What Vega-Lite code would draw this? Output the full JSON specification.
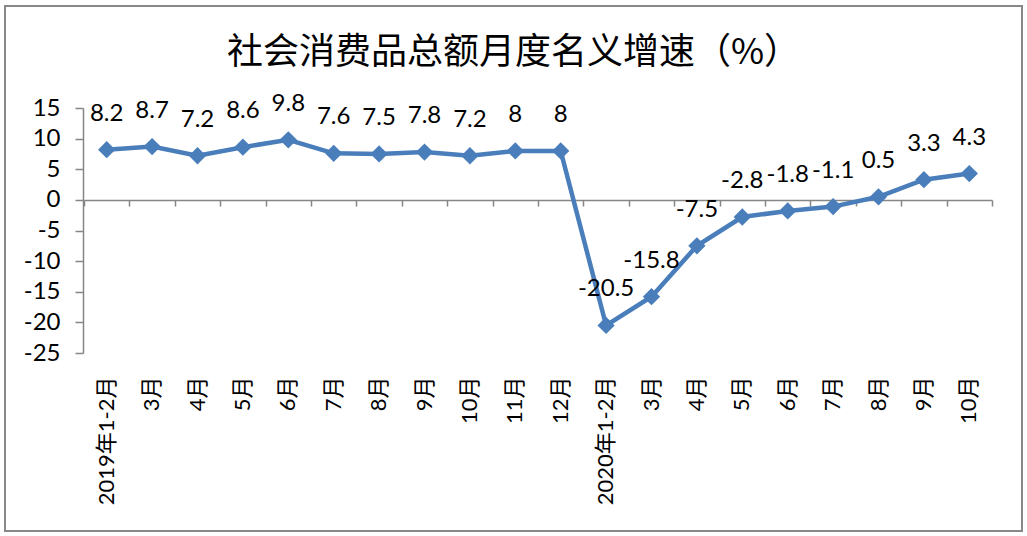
{
  "$schema": "https://vega.github.io/schema/vega-lite/v6.json",
  "autosize": "none",
  "padding": {"left": 5, "top": 6, "right": 5, "bottom": 5},
  "width": 1017,
  "height": 525,
  "config": {
    "view": {"stroke": "#888888", "strokeWidth": 2},
    "font": "Lato, Noto Sans CJK SC"
  },
  "title": {
    "text": "社会消费品总额月度名义增速（%）",
    "font": "Noto Sans CJK SC",
    "fontSize": 36,
    "fontWeight": "normal",
    "color": "#000000",
    "anchor": "middle",
    "frame": "group",
    "offset": -66
  },
  "data": {
    "values": [
      {"month": "2019-02", "value": 8.2},
      {"month": "2019-03", "value": 8.7},
      {"month": "2019-04", "value": 7.2},
      {"month": "2019-05", "value": 8.6},
      {"month": "2019-06", "value": 9.8},
      {"month": "2019-07", "value": 7.6},
      {"month": "2019-08", "value": 7.5},
      {"month": "2019-09", "value": 7.8},
      {"month": "2019-10", "value": 7.2},
      {"month": "2019-11", "value": 8},
      {"month": "2019-12", "value": 8},
      {"month": "2020-02", "value": -20.5},
      {"month": "2020-03", "value": -15.8},
      {"month": "2020-04", "value": -7.5},
      {"month": "2020-05", "value": -2.8},
      {"month": "2020-06", "value": -1.8},
      {"month": "2020-07", "value": -1.1},
      {"month": "2020-08", "value": 0.5},
      {"month": "2020-09", "value": 3.3},
      {"month": "2020-10", "value": 4.3}
    ]
  },
  "encoding": {
    "x": {
      "field": "month",
      "type": "ordinal",
      "sort": null,
      "scale": {"type": "band", "paddingInner": 0, "paddingOuter": 0, "range": [79, 987]}
    },
    "y": {
      "field": "value",
      "type": "quantitative",
      "scale": {"domain": [-25, 15], "range": [347, 102], "nice": false, "zero": false},
      "axis": {
        "orient": "left",
        "offset": -78,
        "title": null,
        "grid": false,
        "values": [-25, -20, -15, -10, -5, 0, 5, 10, 15],
        "labelExpr": "toString(datum.value)",
        "domainColor": "#868686",
        "domainWidth": 1.5,
        "tickColor": "#868686",
        "tickWidth": 1.5,
        "tickSize": 8,
        "labelPadding": 15,
        "labelFontSize": 24,
        "labelColor": "#000000",
        "labelFont": "Lato"
      }
    }
  },
  "layer": [
    {
      "mark": {"type": "line", "color": "#4A7EBB", "strokeWidth": 4.5},
      "encoding": {
        "x": {
          "field": "month",
          "type": "ordinal",
          "sort": null,
          "axis": {
            "orient": "bottom",
            "offset": -161,
            "title": null,
            "domain": false,
            "ticks": false,
            "grid": false,
            "labelAngle": -90,
            "labelAlign": "right",
            "labelBaseline": "middle",
            "labelPadding": 6,
            "labelFontSize": 22,
            "labelColor": "#000000",
            "labelFont": "Lato, Noto Sans CJK SC",
            "labelExpr": "datum.value == '2019-02' ? '2019年1-2月' : datum.value == '2020-02' ? '2020年1-2月' : toNumber(substring(datum.value, 5)) + '月'"
          }
        }
      }
    },
    {
      "mark": {"type": "point", "shape": "diamond", "filled": true, "opacity": 1, "size": 300, "color": "#4A7EBB"},
      "encoding": {
        "x": {
          "field": "month",
          "type": "ordinal",
          "sort": null,
          "axis": {
            "orient": "bottom",
            "offset": -331,
            "title": null,
            "labels": false,
            "grid": false,
            "tickBand": "extent",
            "domainColor": "#868686",
            "domainWidth": 1.5,
            "tickColor": "#868686",
            "tickWidth": 1.5,
            "tickSize": 6
          }
        }
      }
    },
    {
      "mark": {"type": "text", "dy": -36, "fontSize": 24, "font": "Lato", "color": "#000000", "baseline": "middle", "align": "center"},
      "encoding": {
        "x": {"field": "month", "type": "ordinal", "sort": null, "axis": null},
        "text": {"field": "value", "type": "nominal"}
      }
    }
  ],
  "resolve": {"axis": {"x": "independent"}}
}
